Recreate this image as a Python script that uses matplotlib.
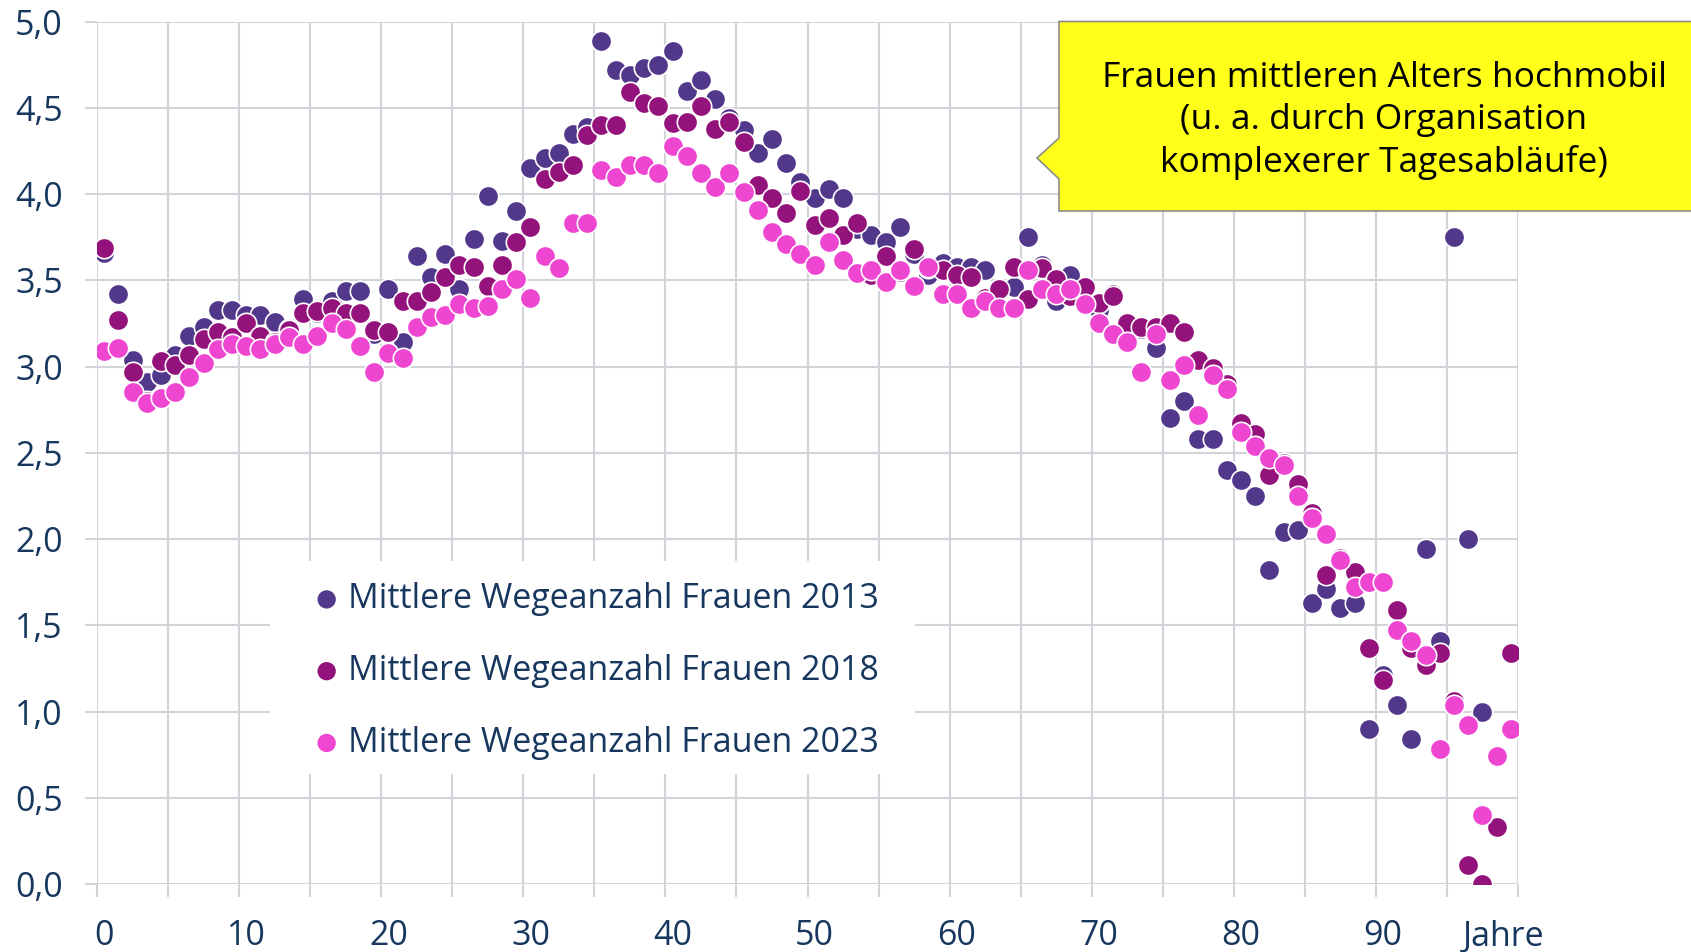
#!/usr/bin/env python3
"""
Mittlere Wegeanzahl von Frauen nach Alter (2013, 2018, 2023) als Streudiagramm.
"""

import numpy as np
import matplotlib
matplotlib.use("Agg")
import matplotlib.pyplot as plt
from matplotlib.patches import Polygon, Rectangle

nan = np.nan

# Alter in Jahren (0 bis 99)
ages = list(range(100))

# Mittlere Wegeanzahl je Alter
trips_2013 = [
    3.66, 3.42, 3.04, 2.91, 2.95, 3.07, 3.18, 3.23, 3.33, 3.33,
    3.30, 3.30, 3.26, 3.22, 3.39, 3.31, 3.38, 3.44, 3.44, 3.19,
    3.45, 3.14, 3.64, 3.52, 3.65, 3.45, 3.74, 3.99, 3.73, 3.90,
    4.15, 4.21, 4.24, 4.35, 4.39, 4.89, 4.72, 4.69, 4.73, 4.75,
    4.83, 4.60, 4.66, 4.55, 4.44, 4.37, 4.24, 4.32, 4.18, 4.07,
    3.98, 4.03, 3.98, 3.80, 3.76, 3.72, 3.81, 3.65, 3.53, 3.60,
    3.58, 3.58, 3.56, 3.44, 3.46, 3.75, 3.59, 3.38, 3.53, 3.44,
    3.33, 3.42, 3.26, 3.22, 3.11, 2.70, 2.80, 2.58, 2.58, 2.40,
    2.34, 2.25, 1.82, 2.04, 2.05, 1.63, 1.71, 1.60, 1.63, 0.90,
    1.21, 1.04, 0.84, 1.94, 1.41, 3.75, 2.00, 1.00, nan, nan,
]
trips_2018 = [
    3.69, 3.27, 2.97, 2.80, 3.03, 3.01, 3.07, 3.16, 3.20, 3.17,
    3.25, 3.18, 3.14, 3.21, 3.31, 3.32, 3.34, 3.31, 3.31, 3.21,
    3.20, 3.38, 3.38, 3.43, 3.52, 3.59, 3.58, 3.47, 3.59, 3.72,
    3.81, 4.09, 4.13, 4.17, 4.34, 4.40, 4.40, 4.59, 4.53, 4.51,
    4.41, 4.42, 4.51, 4.38, 4.42, 4.30, 4.05, 3.98, 3.89, 4.02,
    3.82, 3.86, 3.76, 3.83, 3.53, 3.64, 3.55, 3.68, 3.57, 3.56,
    3.53, 3.52, 3.40, 3.45, 3.58, 3.39, 3.57, 3.51, 3.41, 3.46,
    3.37, 3.41, 3.25, 3.23, 3.23, 3.25, 3.20, 3.04, 2.99, 2.90,
    2.67, 2.61, 2.37, 2.44, 2.32, 2.15, 1.79, 1.89, 1.81, 1.37,
    1.18, 1.59, 1.37, 1.27, 1.34, 1.06, 0.11, 0.00, 0.33, 1.34,
]
trips_2023 = [
    3.09, 3.11, 2.85, 2.79, 2.82, 2.85, 2.94, 3.02, 3.10, 3.13,
    3.12, 3.10, 3.13, 3.17, 3.13, 3.18, 3.25, 3.22, 3.12, 2.97,
    3.08, 3.05, 3.23, 3.29, 3.30, 3.36, 3.34, 3.35, 3.45, 3.51,
    3.40, 3.64, 3.57, 3.83, 3.83, 4.14, 4.10, 4.17, 4.17, 4.12,
    4.28, 4.22, 4.12, 4.04, 4.12, 4.01, 3.91, 3.78, 3.71, 3.65,
    3.59, 3.72, 3.62, 3.54, 3.56, 3.49, 3.56, 3.47, 3.58, 3.42,
    3.42, 3.34, 3.38, 3.34, 3.34, 3.56, 3.45, 3.42, 3.45, 3.36,
    3.25, 3.19, 3.14, 2.97, 3.19, 2.92, 3.01, 2.72, 2.95, 2.87,
    2.62, 2.54, 2.47, 2.43, 2.25, 2.12, 2.03, 1.88, 1.72, 1.75,
    1.75, 1.47, 1.41, 1.33, 0.78, 1.04, 0.92, 0.40, 0.74, 0.90,
]

series_labels = [
    "Mittlere Wegeanzahl Frauen 2013",
    "Mittlere Wegeanzahl Frauen 2018",
    "Mittlere Wegeanzahl Frauen 2023",
]
series_colors = ["#52388A", "#93127B", "#EE46D0"]

x_tick_values = [0, 10, 20, 30, 40, 50, 60, 70, 80, 90]
y_tick_values = [0.0, 0.5, 1.0, 1.5, 2.0, 2.5, 3.0, 3.5, 4.0, 4.5, 5.0]
y_tick_labels = ["0,0", "0,5", "1,0", "1,5", "2,0", "2,5", "3,0", "3,5", "4,0", "4,5", "5,0"]

callout_text = ("Frauen mittleren Alters hochmobil\n"
                "(u. a. durch Organisation\n"
                "komplexerer Tagesabläufe)")

TEXT_COLOR = "#17375E"
GRID_COLOR = "#D3D3DA"
FONT_SIZE = 24.5

plt.rcParams["font.family"] = ["Open Sans", "DejaVu Sans"]


def draw_chart():
    fig = plt.figure(figsize=(16.91, 9.52), dpi=100)
    ax = fig.add_axes([0.0574, 0.0714, 0.8403, 0.9059])

    # Reihen zeichnen
    all_series = [trips_2013, trips_2018, trips_2023]
    for values, label, color in zip(all_series, series_labels, series_colors):
        ax.scatter(ages, values, s=215, color=color, edgecolors="white",
                   linewidths=1.2, label=label, zorder=3)

    ax.set_xlim(-0.5, 99.5)
    ax.set_ylim(0, 5)

    # Gitter: senkrecht alle 5 Jahre (zwischen den Altersklassen), waagerecht alle 0,5
    ax.set_xticks(x_tick_values)
    ax.set_xticklabels([str(v) for v in x_tick_values])
    ax.set_xticks(np.arange(-0.5, 100, 5), minor=True)
    ax.set_yticks(y_tick_values)
    ax.set_yticklabels(y_tick_labels)

    ax.grid(False)
    ax.xaxis.grid(True, which="minor", color=GRID_COLOR, linewidth=1.5, zorder=0)
    ax.yaxis.grid(True, which="major", color=GRID_COLOR, linewidth=1.5, zorder=0)
    ax.set_axisbelow(True)

    for spine in ax.spines.values():
        spine.set_visible(False)

    ax.tick_params(axis="x", which="major", length=0, pad=25,
                   labelsize=FONT_SIZE, labelcolor=TEXT_COLOR)
    ax.tick_params(axis="x", which="minor", length=9.5, width=1.5,
                   color=GRID_COLOR, direction="out")
    ax.tick_params(axis="y", which="major", length=8.5, width=1.5,
                   color=GRID_COLOR, direction="out", pad=16,
                   labelsize=FONT_SIZE, labelcolor=TEXT_COLOR)

    ax.text(0.99, -0.061, "Jahre", transform=ax.transAxes, ha="center",
            va="center", fontsize=FONT_SIZE, color=TEXT_COLOR)

    # weisser Kasten hinter der Legende (ueberdeckt das Gitter)
    ax.add_patch(Rectangle((0.1215, 0.1272), 0.4538, 0.2476,
                           transform=ax.transAxes, facecolor="white",
                           edgecolor="none", zorder=2))
    leg = ax.legend(loc="upper left", bbox_to_anchor=(0.152, 0.3498),
                    fontsize=FONT_SIZE, frameon=False, markerscale=0.9,
                    handletextpad=0.22, handlelength=0.8, labelspacing=1.11,
                    borderpad=0, borderaxespad=0)
    leg.set_zorder(4)
    for text in leg.get_texts():
        text.set_color(TEXT_COLOR)
    for handle in leg.legend_handles:
        handle.set_edgecolor("none")

    # Gelbe Sprechblase oben rechts
    W, H = 1691.0, 952.0
    pts = [(1059, 21.5), (1700, 21.5), (1700, 211), (1059, 211),
           (1059, 179), (1037, 158), (1059, 138)]
    bubble = Polygon([(x / W, 1 - y / H) for x, y in pts], closed=True,
                     transform=fig.transFigure, facecolor="#FFFF1A",
                     edgecolor="#8C8C8C", linewidth=1.2, zorder=5)
    fig.add_artist(bubble)
    fig.text(1384 / W, 1 - 120.5 / H, callout_text, ha="center", va="center",
             fontsize=25.5, color="black", linespacing=1.31, zorder=6)

    return fig


def main():
    fig = draw_chart()
    fig.savefig("out.png", dpi=100)
    print("out.png gespeichert")


if __name__ == "__main__":
    main()
